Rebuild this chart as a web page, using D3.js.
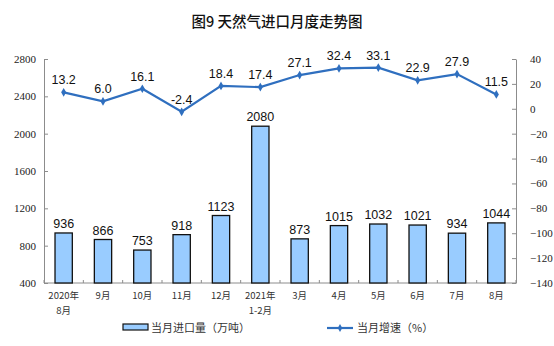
<!DOCTYPE html>
<html><head><meta charset="utf-8">
<script src="https://cdn.jsdelivr.net/npm/d3@7"></script>
<style>body{margin:0;background:#fff}svg{display:block}</style>
</head><body>
<script>
const categories = [["2020年","8月"],["9月"],["10月"],["11月"],["12月"],["2021年","1-2月"],["3月"],["4月"],["5月"],["6月"],["7月"],["8月"]];
const importVolume = [936, 866, 753, 918, 1123, 2080, 873, 1015, 1032, 1021, 934, 1044];
const growthRate = [13.2, 6.0, 16.1, -2.4, 18.4, 17.4, 27.1, 32.4, 33.1, 22.9, 27.9, 11.5];
const leftTicks = [400, 800, 1200, 1600, 2000, 2400, 2800];
const rightTicks = [40, 20, 0, -20, -40, -60, -80, -100, -120, -140];
const title = "图9\u00a0天然气进口月度走势图";
const legendBar = "当月进口量（万吨）";
const legendLine = "当月增速（%）";

const W = 554, H = 346;
const svg = d3.select("body").append("svg").attr("width", W).attr("height", H);
const m = {left: 44, right: 516, top: 59, bottom: 283};

const x = d3.scaleBand().domain(d3.range(categories.length)).range([m.left, m.right]).paddingInner(0.56).paddingOuter(0.28);
const yL = d3.scaleLinear().domain([400, 2800]).range([m.bottom, m.top]);
const yR = d3.scaleLinear().domain([-140, 40]).range([m.bottom, m.top]);

svg.append("text").attr("x", 277).attr("y", 27).attr("text-anchor", "middle")
  .attr("font-family", "Noto Sans CJK SC").attr("font-weight", 500).attr("font-size", 14.5).attr("fill", "#111").text(title);

const axisColor = "#8c8c8c";
const gL = svg.append("g").attr("transform", `translate(${m.left},0)`)
  .call(d3.axisLeft(yL).tickValues(leftTicks).tickFormat(d3.format("d")).tickSizeInner(-4).tickSizeOuter(0).tickPadding(8));
const gR = svg.append("g").attr("transform", `translate(${m.right},0)`)
  .call(d3.axisRight(yR).tickValues(rightTicks).tickFormat(d3.format("d")).tickSizeInner(-4).tickSizeOuter(0).tickPadding(10));
[gL, gR].forEach(g => {
  g.select(".domain").attr("stroke", axisColor);
  g.selectAll(".tick line").attr("stroke", axisColor);
  g.selectAll("text").attr("font-family", "Liberation Serif").attr("font-size", 11).attr("fill", "#222");
});
gR.selectAll("text").attr("x", 14).attr("text-anchor", "start");

svg.append("line").attr("x1", m.left).attr("x2", m.right).attr("y1", m.bottom).attr("y2", m.bottom).attr("stroke", axisColor);
d3.range(categories.length + 1).forEach(i => {
  const xx = m.left + (m.right - m.left) * i / categories.length;
  svg.append("line").attr("x1", xx).attr("x2", xx).attr("y1", m.bottom).attr("y2", m.bottom - 3).attr("stroke", axisColor);
});
categories.forEach((c, i) => {
  c.forEach((s, j) => svg.append("text").attr("x", x(i) + x.bandwidth() / 2).attr("y", 299 + j * 14.5)
    .attr("text-anchor", "middle").attr("font-family", "Noto Sans CJK SC").attr("font-size", 9.5).attr("fill", "#333").text(s));
});

svg.selectAll("rect.bar").data(importVolume).join("rect").attr("class", "bar")
  .attr("x", (d, i) => x(i)).attr("width", x.bandwidth())
  .attr("y", d => yL(d)).attr("height", d => yL(400) - yL(d))
  .attr("fill", "#99ccff").attr("stroke", "#111").attr("stroke-width", 1.3);
svg.selectAll("text.bl").data(importVolume).join("text").attr("class", "bl")
  .attr("x", (d, i) => x(i) + x.bandwidth() / 2).attr("y", d => yL(d) - 5)
  .attr("text-anchor", "middle").attr("font-family", "Liberation Sans").attr("font-size", 12.5).attr("fill", "#111").text(d => d);

const lineColor = "#2f6fbf";
const cx = i => x(i) + x.bandwidth() / 2;
svg.append("path").datum(growthRate)
  .attr("d", d3.line().x((d, i) => cx(i)).y(d => yR(d)))
  .attr("fill", "none").attr("stroke", lineColor).attr("stroke-width", 2.2);
svg.selectAll("path.pt").data(growthRate).join("path").attr("class", "pt")
  .attr("transform", (d, i) => `translate(${cx(i)},${yR(d)})`)
  .attr("d", d3.symbol(d3.symbolDiamond, 22)).attr("fill", lineColor);
svg.selectAll("text.ll").data(growthRate).join("text").attr("class", "ll")
  .attr("x", (d, i) => cx(i)).attr("y", d => yR(d) - 8)
  .attr("text-anchor", "middle").attr("font-family", "Liberation Sans").attr("font-size", 12.5).attr("fill", "#111").text(d => d.toFixed(1));

svg.append("rect").attr("x", 123).attr("y", 324).attr("width", 25).attr("height", 6)
  .attr("fill", "#99ccff").attr("stroke", "#111").attr("stroke-width", 1.2);
svg.append("text").attr("x", 151).attr("y", 332).attr("font-family", "Noto Sans CJK SC").attr("font-size", 11).attr("fill", "#333").text(legendBar);
svg.append("line").attr("x1", 327).attr("x2", 353).attr("y1", 328).attr("y2", 328).attr("stroke", lineColor).attr("stroke-width", 2.2);
svg.append("path").attr("transform", "translate(340,328)").attr("d", d3.symbol(d3.symbolDiamond, 18)).attr("fill", lineColor);
svg.append("text").attr("x", 357).attr("y", 332).attr("font-family", "Noto Sans CJK SC").attr("font-size", 11).attr("fill", "#333").text(legendLine);
</script>
</body></html>
